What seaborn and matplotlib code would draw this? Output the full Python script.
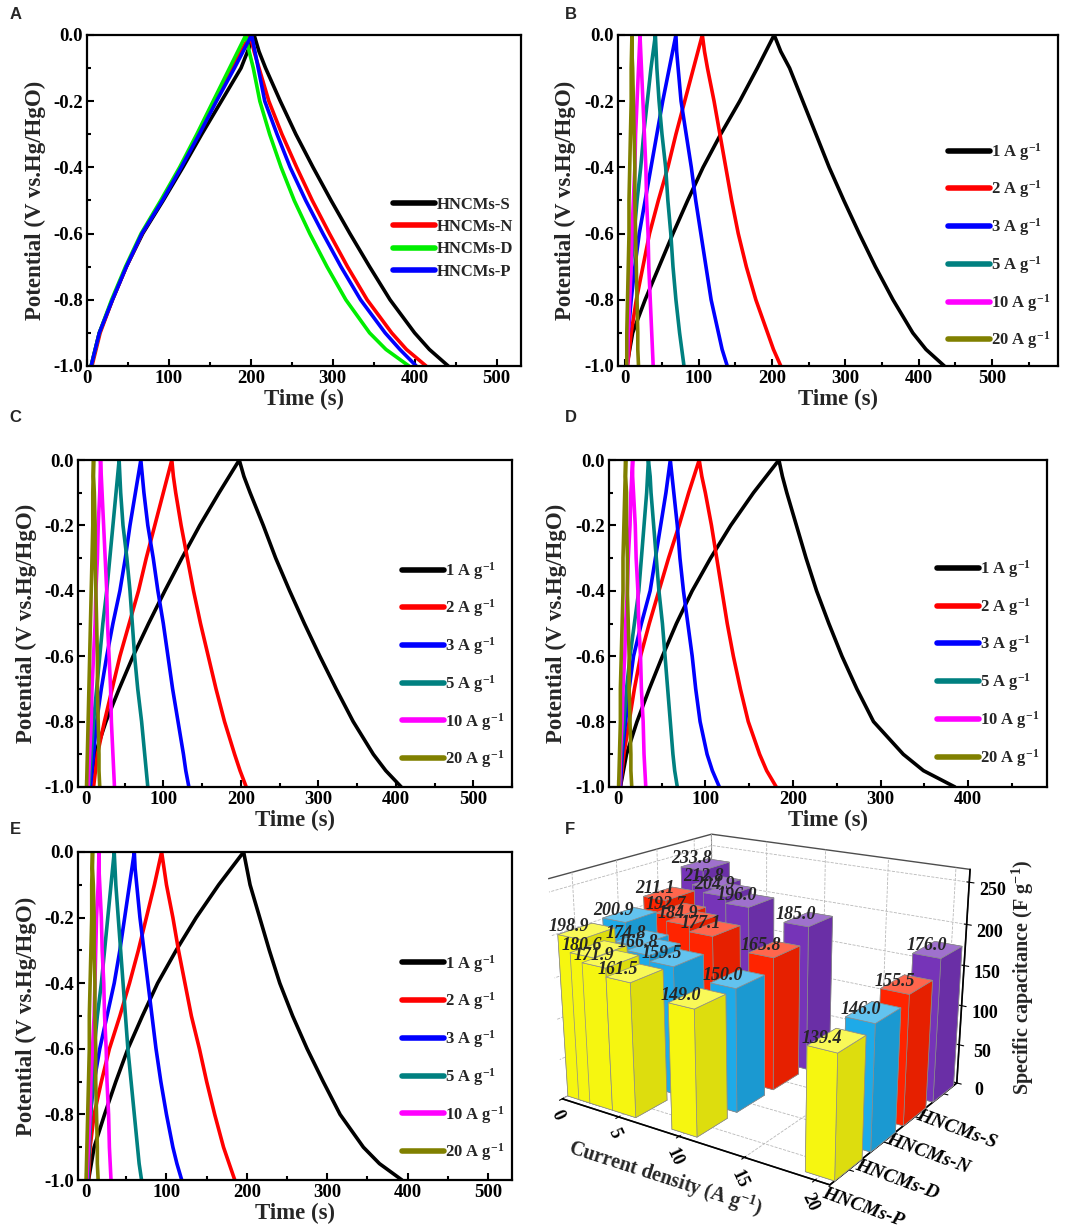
import numpy as np
import pandas as pd
import matplotlib
matplotlib.use("Agg")
import matplotlib.pyplot as plt
import seaborn as sns
from matplotlib.lines import Line2D
from matplotlib.colors import to_rgb
from matplotlib.ticker import MultipleLocator, FormatStrFormatter

V_CHG = [-1.0, -0.9, -0.8, -0.7, -0.6, -0.5, -0.4, -0.3, -0.2, -0.1, 0.0]
V_DIS = [0.0, -0.05, -0.1, -0.2, -0.3, -0.4, -0.5, -0.6, -0.7, -0.8, -0.9, -0.95, -1.0]

SAMPLES = ["HNCMs-S", "HNCMs-N", "HNCMs-D", "HNCMs-P"]
SAMPLE_COLORS = ["#000000", "#FF0000", "#00EE00", "#0000FF"]
RATES = [1, 2, 3, 5, 10, 20]
RATE_LABELS = [f"{r} A g$^{{-1}}$" for r in RATES]
RATE_COLORS = ["#000000", "#FF0000", "#0000FF", "#008080", "#FF00FF", "#808000"]

# panel A (1 A/g): times (s) at V_CHG (charge) and V_DIS (discharge), order of SAMPLES
A_CHG = [[5, 15, 31, 48, 68, 93, 117, 140, 164, 188, 204],
         [6, 16, 31, 48, 67, 91, 114, 136, 156, 177, 199],
         [5, 15, 30, 47, 66, 90, 113, 134, 154, 174, 194],
         [5, 15, 31, 48, 67, 92, 115, 137, 158, 180, 201]]
A_DIS = [[204, 210, 218, 236, 255, 276, 298, 321, 345, 370, 400, 418, 441],
         [199, 204, 210, 222, 238, 256, 275, 296, 318, 342, 372, 390, 414],
         [194, 198, 203, 211, 223, 237, 253, 272, 293, 316, 345, 365, 393],
         [201, 205, 209, 217, 232, 248, 267, 288, 310, 334, 364, 382, 402]]

# panels B-E: one list per current density, same order as RATES
B_CHG = [[2, 10, 27, 46, 65, 85, 106, 130, 156, 180, 203],
         [3, 8, 15, 24, 33, 45, 58, 69, 81, 93, 105],
         [2, 4, 8, 13, 19, 27, 35, 43, 51, 60, 69],
         [2, 3, 5, 8, 12, 16, 21, 25, 30, 35, 41],
         [3, 4, 6, 8, 9, 11, 13, 14, 16, 18, 20],
         [2, 2, 3, 4, 5, 5, 6, 7, 8, 8, 9]]
B_DIS = [[203, 212, 224, 242, 260, 278, 298, 319, 341, 365, 392, 410, 435],
         [105, 108, 112, 121, 129, 137, 145, 154, 165, 178, 194, 202, 212],
         [69, 70, 72, 76, 83, 90, 96, 103, 110, 117, 127, 132, 139],
         [41, 42, 43, 46, 50, 55, 58, 62, 65, 69, 74, 77, 80],
         [20, 21, 22, 24, 26, 28, 29, 31, 32, 34, 36, 37, 38],
         [9, 9, 10, 11, 12, 13, 13, 14, 15, 16, 17, 17, 18]]

C_CHG = [[5, 12, 26, 43, 61, 81, 102, 124, 147, 172, 198],
         [10, 15, 24, 34, 44, 56, 68, 78, 89, 100, 111],
         [6, 10, 14, 20, 27, 35, 44, 51, 57, 64, 71],
         [4, 7, 10, 14, 18, 22, 27, 31, 35, 39, 43],
         [3, 5, 7, 8, 10, 12, 13, 15, 16, 18, 19],
         [1, 2, 3, 4, 5, 6, 7, 8, 9, 9, 10]]
C_DIS = [[198, 204, 212, 229, 245, 263, 282, 302, 323, 345, 371, 387, 407],
         [111, 113, 116, 123, 131, 139, 148, 158, 168, 179, 192, 199, 207],
         [71, 73, 75, 80, 87, 93, 100, 106, 112, 119, 126, 129, 133],
         [43, 44, 45, 48, 53, 57, 60, 63, 67, 72, 76, 78, 80],
         [19, 20, 21, 23, 25, 27, 28, 30, 32, 33, 35, 36, 37],
         [10, 10, 11, 12, 12, 13, 14, 15, 15, 16, 17, 17, 18]]

D_CHG = [[3, 10, 22, 36, 51, 67, 85, 106, 129, 155, 184],
         [3, 7, 13, 19, 26, 36, 47, 58, 70, 81, 93],
         [3, 5, 9, 13, 18, 27, 37, 43, 49, 55, 60],
         [2, 4, 7, 10, 14, 19, 24, 27, 30, 33, 35],
         [2, 3, 5, 6, 8, 9, 11, 12, 14, 15, 17],
         [1, 2, 3, 3, 4, 5, 6, 6, 7, 8, 9]]
D_DIS = [[184, 188, 193, 204, 215, 227, 241, 256, 273, 292, 326, 349, 385],
         [93, 96, 100, 107, 113, 119, 125, 132, 140, 149, 162, 170, 181],
         [60, 62, 64, 68, 71, 75, 80, 85, 89, 94, 102, 108, 116],
         [35, 37, 38, 41, 44, 47, 51, 54, 57, 60, 63, 65, 68],
         [17, 17, 18, 20, 21, 23, 24, 26, 27, 29, 30, 31, 32],
         [9, 9, 10, 10, 11, 11, 12, 13, 13, 14, 15, 15, 16]]

E_CHG = [[3, 10, 23, 37, 52, 70, 89, 112, 137, 165, 196],
         [3, 5, 10, 19, 29, 42, 54, 65, 75, 85, 94],
         [2, 3, 5, 10, 17, 26, 35, 42, 48, 54, 60],
         [2, 4, 6, 8, 10, 14, 19, 23, 27, 31, 35],
         [1, 3, 5, 6, 8, 10, 11, 12, 13, 15, 16],
         [0, 1, 2, 3, 4, 4, 5, 6, 7, 7, 8]]
E_DIS = [[196, 200, 204, 216, 228, 241, 257, 275, 295, 316, 345, 365, 393],
         [94, 97, 100, 108, 115, 123, 131, 141, 150, 160, 171, 178, 185],
         [60, 61, 63, 67, 72, 77, 82, 87, 93, 100, 108, 113, 119],
         [35, 36, 37, 40, 43, 46, 49, 52, 56, 60, 64, 66, 69],
         [16, 16, 17, 19, 20, 22, 23, 25, 26, 28, 29, 30, 31],
         [8, 8, 9, 10, 10, 11, 11, 12, 12, 13, 14, 14, 15]]

# panel F: specific capacitance (F/g) at RATES
CAP_S = [233.8, 212.8, 204.9, 196.0, 185.0, 176.0]
CAP_N = [211.1, 192.7, 184.9, 177.1, 165.8, 155.5]
CAP_D = [200.9, 174.8, 166.8, 159.5, 150.0, 146.0]
CAP_P = [198.9, 180.6, 171.9, 161.5, 149.0, 139.4]
BAR_COLORS = {"HNCMs-S": "#7634B8", "HNCMs-N": "#FF2400",
              "HNCMs-D": "#1EAAE8", "HNCMs-P": "#F6F610"}

sns.set_style("ticks")
plt.rcParams["font.family"] = ["Liberation Serif", "DejaVu Serif"]
plt.rcParams["font.weight"] = "bold"
plt.rcParams["axes.labelweight"] = "bold"
plt.rcParams["axes.unicode_minus"] = False
plt.rcParams["mathtext.fontset"] = "custom"
plt.rcParams["mathtext.rm"] = "Liberation Serif:bold"
plt.rcParams["mathtext.it"] = "Liberation Serif:bold:italic"
plt.rcParams["mathtext.bf"] = "Liberation Serif:bold"
plt.rcParams["axes.edgecolor"] = "black"
plt.rcParams["xtick.color"] = "black"
plt.rcParams["ytick.color"] = "black"


def make_df(labels, chg, dis):
    rows = []
    for lab, c, d in zip(labels, chg, dis):
        for t, v in zip(list(c) + list(d), V_CHG + V_DIS):
            rows.append({"curve": lab, "t": t, "V": v})
    return pd.DataFrame(rows)


def gcd_panel(ax, df, labels, colors, xlim, leg_x, leg_y, spacing):
    sns.lineplot(data=df, x="t", y="V", hue="curve", hue_order=labels,
                 palette=colors, sort=False, estimator=None, linewidth=2.6,
                 legend=False, ax=ax)
    ax.set_xlim(*xlim)
    ax.set_ylim(-1.0, 0.0)
    ax.xaxis.set_major_locator(MultipleLocator(100))
    ax.xaxis.set_minor_locator(MultipleLocator(50))
    ax.yaxis.set_major_locator(MultipleLocator(0.2))
    ax.yaxis.set_minor_locator(MultipleLocator(0.1))
    ax.yaxis.set_major_formatter(FormatStrFormatter("%.1f"))
    ax.tick_params(which="both", direction="in", top=False, right=False,
                   width=1.5, labelsize=13.5, pad=3)
    ax.tick_params(which="major", length=5)
    ax.tick_params(which="minor", length=3)
    for s in ax.spines.values():
        s.set_linewidth(1.6)
    ax.set_xlabel("Time (s)", fontsize=16.5)
    ax.set_ylabel("Potential (V vs.Hg/HgO)", fontsize=16.5)
    ax.xaxis.set_label_coords(0.5, -0.07)
    ax.yaxis.set_label_coords(-0.095, 0.5)
    handles = [Line2D([], [], color=c, lw=4) for c in colors]
    ax.legend(handles, labels, loc="center left", bbox_to_anchor=(leg_x, leg_y),
              frameon=False, fontsize=12, handlelength=2.5, handletextpad=0.1,
              labelspacing=spacing, borderpad=0, borderaxespad=0)


def shade(c, f):
    r = np.array(to_rgb(c))
    return tuple(r * f) if f < 1 else tuple(r + (1 - r) * (f - 1))


fig = plt.figure(figsize=(10.84, 12.31), dpi=100)

axA = fig.add_axes([0.0803, 0.7027, 0.4004, 0.2689])
gcd_panel(axA, make_df(SAMPLES, A_CHG, A_DIS), SAMPLES, SAMPLE_COLORS,
          (0, 530), 0.705, 0.386, 0.38)

axB = fig.add_axes([0.5701, 0.7027, 0.4059, 0.2689])
gcd_panel(axB, make_df(RATE_LABELS, B_CHG, B_DIS), RATE_LABELS, RATE_COLORS,
          (-10, 590), 0.75, 0.362, 0.95)

axC = fig.add_axes([0.072, 0.3607, 0.4004, 0.2656])
gcd_panel(axC, make_df(RATE_LABELS, C_CHG, C_DIS), RATE_LABELS, RATE_COLORS,
          (-10, 550), 0.746, 0.373, 0.95)

axD = fig.add_axes([0.5618, 0.3607, 0.404, 0.2656])
gcd_panel(axD, make_df(RATE_LABELS, D_CHG, D_DIS), RATE_LABELS, RATE_COLORS,
          (-10, 490), 0.749, 0.378, 0.95)

axE = fig.add_axes([0.072, 0.0414, 0.4004, 0.2665])
gcd_panel(axE, make_df(RATE_LABELS, E_CHG, E_DIS), RATE_LABELS, RATE_COLORS,
          (-10, 530), 0.746, 0.372, 0.95)

# panel F: 3D bars
plt.rcParams["grid.linestyle"] = "--"
plt.rcParams["grid.color"] = "0.72"
plt.rcParams["grid.linewidth"] = 0.6
axF = fig.add_axes([0.418, 0.009, 0.56, 0.37], projection="3d")
axF.set_facecolor("none")
axF.patch.set_alpha(0)
axF.view_init(elev=19, azim=-56)
axF.set_proj_type("persp", focal_length=0.45)
axF.set_box_aspect((4, 3.3, 2.9))

rows = ["HNCMs-P", "HNCMs-D", "HNCMs-N", "HNCMs-S"]
caps = {"HNCMs-S": CAP_S, "HNCMs-N": CAP_N, "HNCMs-D": CAP_D, "HNCMs-P": CAP_P}
dx, dy = 2.0, 0.75
xs, ys, hs, face_cols = [], [], [], []
for j, s in enumerate(rows):
    base = BAR_COLORS[s]
    # face order of bar3d: bottom, top, -y, +y, -x, +x
    faces = [shade(base, 0.8), shade(base, 1.3), shade(base, 1.0),
             shade(base, 0.85), shade(base, 0.95), shade(base, 0.9)]
    for r, h in zip(RATES, caps[s]):
        xs.append(r - dx / 2)
        ys.append(j - dy / 2)
        hs.append(h)
        face_cols.extend(faces)
axF.bar3d(xs, ys, np.zeros(len(xs)), dx, dy, hs, color=face_cols, shade=False,
          edgecolor="0.55", linewidth=0.5)
for j, s in enumerate(rows):
    for r, h in zip(RATES, caps[s]):
        axF.text(r, j - dy / 2, h + 2, f"{h:.1f}", ha="center", va="bottom",
                 fontsize=13, fontstyle="italic", fontweight="bold", zorder=100)

axF.set_xlim(0, 21)
axF.set_ylim(-0.5, 3.5)
axF.set_zlim(0, 265)
axF.set_xticks([0, 5, 10, 15, 20])
axF.set_yticks(range(4))
axF.set_yticklabels(rows, fontstyle="italic")
axF.set_zticks(range(0, 251, 50))
axF.tick_params(axis="x", labelsize=13, labelrotation=-65, pad=-3)
axF.tick_params(axis="y", labelsize=14, labelrotation=-20, pad=0)
axF.tick_params(axis="z", labelsize=13, pad=2)
axF.zaxis.set_ticks_position("upper")
axF.zaxis.set_label_position("upper")
axF.set_xlabel("Current density (A g$^{-1}$)", fontsize=14.5, labelpad=0)
axF.zaxis.set_rotate_label(False)
axF.set_zlabel("Specific capacitance (F g$^{-1}$)", fontsize=14.5, rotation=90, labelpad=5)
for a in (axF.xaxis, axF.yaxis, axF.zaxis):
    a.set_pane_color((1, 1, 1, 1))
    a.pane.set_edgecolor("0.3")
    a.line.set_linewidth(1.2)

for txt, x, y in [("A", 0.009, 0.988), ("B", 0.521, 0.988), ("C", 0.009, 0.661),
                  ("D", 0.521, 0.661), ("E", 0.009, 0.3265), ("F", 0.521, 0.3265)]:
    fig.text(x, y, txt, fontsize=12, fontweight="bold", family="Liberation Sans",
             va="center", ha="left")

fig.savefig("out.png", dpi=100, facecolor="white")
